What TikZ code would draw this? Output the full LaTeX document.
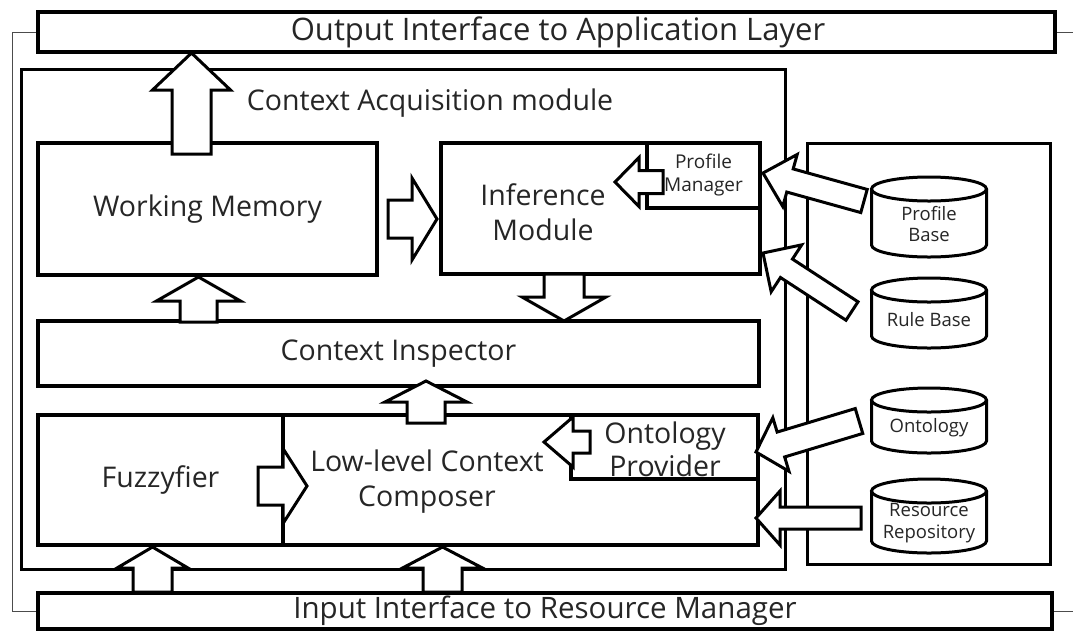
\documentclass[tikz,border=0pt]{standalone}
\usepackage{fontspec}
\setmainfont{Open Sans}
\usetikzlibrary{calc}
\newcommand{\bigfont}{\fontsize{28.5}{35}\selectfont}
\newcommand{\outfont}{\fontsize{31}{35}\selectfont}
\newcommand{\infont}{\fontsize{29.5}{35}\selectfont}
\newcommand{\opfont}{\fontsize{28.5}{33}\selectfont}
\newcommand{\smfont}{\fontsize{19}{23}\selectfont}
\newcommand{\cylfont}{\fontsize{18.5}{21.5}\selectfont}
\newcommand{\boxat}[7][]{\node[box,#1,minimum width={(#5-#3)*1pt},minimum height={(#6-#4)*1pt}] (#2) at ({(#3+#5)/2},{(#4+#6)/2}) {#7};}
\newcommand{\blockarrow}[5]{%
  \coordinate (ba-b) at ($(#2)!#5!(#1)$);
  \draw[barrow] ($(#1)!#3!90:(#2)$) -- ($(ba-b)!#3!90:(#2)$) -- ($(ba-b)!#4!90:(#2)$) -- (#2)
    -- ($(ba-b)!#4!-90:(#2)$) -- ($(ba-b)!#3!-90:(#2)$) -- ($(#1)!#3!-90:(#2)$) -- cycle;}
\newcommand{\dbcyl}[5]{%
  \draw[cyl] ({#2-57.5},{#3+12}) -- ({#2-57.5},{#4-12}) arc[start angle=180,end angle=360,x radius=57.5pt,y radius=12pt] -- ({#2+57.5},{#3+12});
  \draw[cyl] (#2,{#3+12}) ellipse[x radius=57.5pt,y radius=12pt];
  \node[cyltext] (#1) at (#2,{(#3+#4)/2+7}) {#5};}
\begin{document}
\begin{tikzpicture}[x=1pt,y=-1pt,
  box/.style={draw, line width=4pt, fill=white, inner sep=0pt, align=center, font=\bigfont, text=black!85},
  modbox/.style={draw, line width=3pt, fill=white, inner sep=0pt},
  lbl/.style={inner sep=0pt, align=center, font=\bigfont, text=black!85},
  cyl/.style={draw, line width=3pt, fill=white},
  cyltext/.style={inner sep=0pt, align=center, font=\cylfont, text=black!85},
  barrow/.style={draw, line width=3pt, fill=white, line join=miter},
  frame/.style={draw, line width=0.8pt, black!70}]
\useasboundingbox (0,0) rectangle (1073,633);
% outer boxes
\boxat[line width=4.5pt]{out}{38}{12}{1055}{52}{}
\node[lbl,font=\outfont] (outlbl) at (558,32) {Output Interface to Application Layer};
\boxat[line width=4.5pt,font=\infont]{in}{38}{593}{1052}{629}{Input Interface to Resource Manager}
\draw[frame] (out.west) -- (12,32) -- (12,611) -- (in.west);
\draw[frame] (out.east) -- (1073,32);
\draw[frame] (in.east) -- (1073,611);
% module box
\boxat[modbox]{mod}{21}{69}{785}{569}{}
\node[lbl] (modlbl) at (430,103) {Context Acquisition module};
\boxat[modbox]{res}{807}{143}{1050}{564}{}
% inner boxes
\boxat{wm}{38}{143}{377}{275}{Working Memory}
\boxat{inf}{441}{143}{760}{274}{}
\node[lbl] (inflbl) at (543,212) {Inference\\Module};
\boxat[font=\smfont]{pm}{647}{143}{760}{208}{Profile\\Manager}
\boxat{ci}{38}{321}{759}{386}{Context Inspector}
\boxat{fz}{38}{415}{283}{545}{Fuzzyfier}
\boxat{llc}{283}{415}{758}{545}{}
\node[lbl] (llclbl) at (427,482) {Low-level Context\\Composer};
\boxat{op}{571}{415}{758}{479}{}
\node[lbl,font=\opfont] (oplbl) at (665,449) {Ontology\\Provider};
% cylinders
\dbcyl{pb}{929}{177}{257}{Profile\\Base}
\dbcyl{rb}{929}{278}{348}{Rule Base}
\dbcyl{on}{929}{388}{453}{Ontology}
\dbcyl{rr}{929}{479}{553}{Resource\\Repository}
% block arrows
\coordinate (a1t) at (191.5,154); \coordinate (a1h) at (191.5,53);
\blockarrow{a1t}{a1h}{19.5pt}{39pt}{37pt}
\coordinate (a2t) at (198.5,322); \coordinate (a2h) at (198.5,277);
\blockarrow{a2t}{a2h}{18.5pt}{42pt}{24pt}
\coordinate (a3t) at (388,219); \coordinate (a3h) at (437,219);
\blockarrow{a3t}{a3h}{19pt}{41pt}{25pt}
\coordinate (a4t) at (564,274); \coordinate (a4h) at (564,321);
\blockarrow{a4t}{a4h}{20pt}{42pt}{24pt}
\coordinate (a5t) at (663,182); \coordinate (a5h) at (615,182);
\blockarrow{a5t}{a5h}{11.5pt}{24.5pt}{24pt}
\coordinate (a6t) at (864,201); \coordinate (a6h) at (763,173);
\blockarrow{a6t}{a6h}{12pt}{27pt}{28pt}
\coordinate (a7t) at (852,311); \coordinate (a7h) at (763,253);
\blockarrow{a7t}{a7h}{11pt}{28pt}{28pt}
\coordinate (a8t) at (426,423); \coordinate (a8h) at (426,381);
\blockarrow{a8t}{a8h}{19pt}{41pt}{21pt}
\coordinate (a9t) at (258,486); \coordinate (a9h) at (307,486);
\blockarrow{a9t}{a9h}{19pt}{37.5pt}{24pt}
\coordinate (a10t) at (152.5,592); \coordinate (a10h) at (152.5,547);
\blockarrow{a10t}{a10h}{19.5pt}{35.5pt}{21pt}
\coordinate (a11t) at (442.5,592); \coordinate (a11h) at (442.5,547);
\blockarrow{a11t}{a11h}{19.5pt}{40pt}{21pt}
\coordinate (a12t) at (590,442); \coordinate (a12h) at (544,442);
\blockarrow{a12t}{a12h}{11pt}{25pt}{29pt}
\coordinate (a13t) at (859,421); \coordinate (a13h) at (756,452);
\blockarrow{a13t}{a13h}{13pt}{28pt}{26pt}
\coordinate (a14t) at (861,518); \coordinate (a14h) at (756,518);
\blockarrow{a14t}{a14h}{11pt}{27pt}{24pt}
\end{tikzpicture}
\end{document}
